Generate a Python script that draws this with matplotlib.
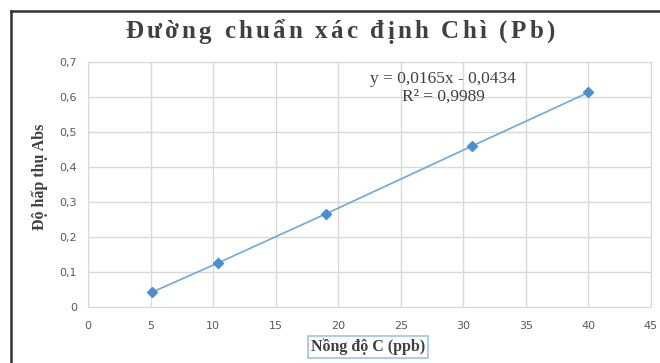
import matplotlib
matplotlib.use("Agg")
import matplotlib.pyplot as plt
from matplotlib.lines import Line2D

# Data
conc = [5.1, 10.4, 19.0, 30.7, 40.0]
absorb = [0.042, 0.126, 0.266, 0.460, 0.613]
x_ticks = [0, 5, 10, 15, 20, 25, 30, 35, 40, 45]
y_ticks = [0, 0.1, 0.2, 0.3, 0.4, 0.5, 0.6, 0.7]
y_tick_labels = ["0", "0,1", "0,2", "0,3", "0,4", "0,5", "0,6", "0,7"]
title = "Đường chuẩn xác định Chì (Pb)"
xlabel = "Nồng độ C (ppb)"
ylabel = "Độ hấp thụ Abs"
eq_text = "y = 0,0165x - 0,0434\nR² = 0,9989"

W, H = 660, 363
fig = plt.figure(figsize=(W / 100, H / 100), dpi=100)
fig.patch.set_facecolor("white")

# outer frame (left & top dark lines)
fig.add_artist(Line2D([11 / W, 11 / W], [0, 1 - 11 / H], color="#333333", lw=1.8, transform=fig.transFigure))
fig.add_artist(Line2D([11 / W, 1], [1 - 11 / H, 1 - 11 / H], color="#333333", lw=1.8, transform=fig.transFigure))

ax = fig.add_axes([88 / W, 1 - 307 / H, (651 - 88) / W, (307 - 62) / H])
ax.plot(conc, absorb, color="#6fa8dc", lw=1.2, zorder=2)
ax.plot(conc, absorb, linestyle="none", marker="D", markersize=5.5, color="#4a8fd4", zorder=3)

ax.set_xlim(0, 45)
ax.set_ylim(0, 0.7)
ax.set_xticks(x_ticks)
ax.set_xticklabels([str(t) for t in x_ticks])
ax.set_yticks(y_ticks)
ax.set_yticklabels(y_tick_labels)
ax.grid(True, color="#d9d9d9", lw=1)
ax.set_axisbelow(True)
for s in ax.spines.values():
    s.set_color("#d9d9d9")
ax.tick_params(length=0, labelsize=8, colors="#595959", pad=8)
ax.tick_params(axis="x", pad=10)

# Title with letter spacing
renderer = fig.canvas.get_renderer()
tkw = dict(family="Liberation Serif", fontweight="bold", fontsize=18, color="#404040", va="center", ha="left")
target_left, target_right = 125, 555
chars = list(title)
widths = []
for c in chars:
    if c == " ":
        t = fig.text(0, 0, "a a", **tkw)
        w_full = t.get_window_extent(renderer).width
        t.remove()
        t = fig.text(0, 0, "aa", **tkw)
        w_aa = t.get_window_extent(renderer).width
        t.remove()
        widths.append(w_full - w_aa)
    else:
        t = fig.text(0, 0, c, **tkw)
        widths.append(t.get_window_extent(renderer).width)
        t.remove()
natural = sum(widths)
gap = (target_right - target_left - natural) / (len(chars) - 1)
x = target_left
for c, w in zip(chars, widths):
    if c != " ":
        fig.text(x / W, 1 - 32 / H, c, **tkw)
    x += w + gap

fig.text(443 / W, 1 - 88 / H, eq_text, ha="center", va="center", family="Liberation Serif",
         fontsize=12.5, color="#404040", linespacing=1.15)
fig.text(40 / W, 1 - 177 / H, ylabel, ha="center", va="center", rotation=90,
         family="Liberation Serif", fontweight="bold", fontsize=11.5, color="#404040")
fig.text(368 / W, 1 - 347 / H, xlabel, ha="center", va="center", family="Liberation Serif",
         fontweight="bold", fontsize=11.5, color="#404040",
         bbox=dict(boxstyle="square,pad=0.2", fc="white", ec="#9dc3e6", lw=1.2))

fig.savefig("out.png", dpi=100)
